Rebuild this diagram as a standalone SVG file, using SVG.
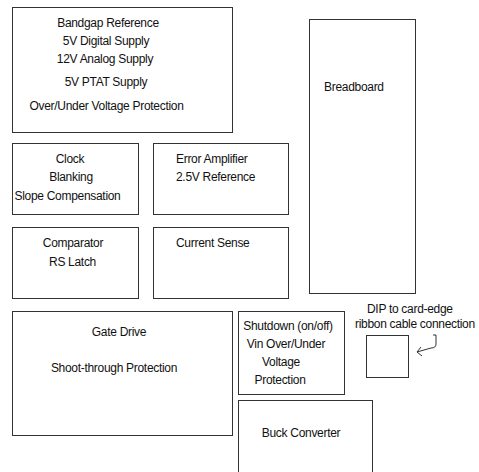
<svg xmlns="http://www.w3.org/2000/svg" width="479" height="472" viewBox="0 0 479 472">
<style>
rect{fill:#fff;stroke:#333;stroke-width:1}
text{font-family:"Liberation Sans",Arial,sans-serif;font-size:12px;letter-spacing:-0.3px;fill:#111}
.c{text-anchor:middle}
.conn{fill:none;stroke:#333;stroke-width:1}
</style>
<rect x="0" y="0" width="479" height="472" style="stroke:none"/>
<g id="power">
<rect x="12.5" y="7.5" width="220" height="125"/>
<text class="c" x="108" y="27">Bandgap Reference</text>
<text class="c" x="106" y="45">5V Digital Supply</text>
<text class="c" x="105" y="63">12V Analog Supply</text>
<text class="c" x="106" y="86">5V PTAT Supply</text>
<text class="c" x="106.5" y="110">Over/Under Voltage Protection</text>
</g>
<g id="breadboard">
<rect x="309.5" y="19.5" width="106" height="274"/>
<text x="324" y="91">Breadboard</text>
</g>
<g id="clock">
<rect x="12.5" y="143.5" width="126" height="71"/>
<text class="c" x="70" y="163">Clock</text>
<text class="c" x="71" y="181">Blanking</text>
<text class="c" x="67.5" y="200">Slope Compensation</text>
</g>
<g id="erroramp">
<rect x="153.5" y="143.5" width="135" height="71"/>
<text x="176" y="163">Error Amplifier</text>
<text x="176" y="181">2.5V Reference</text>
</g>
<g id="comparator">
<rect x="12.5" y="227.5" width="126" height="71"/>
<text class="c" x="73" y="247">Comparator</text>
<text class="c" x="72.5" y="266">RS Latch</text>
</g>
<g id="currentsense">
<rect x="153.5" y="227.5" width="135" height="71"/>
<text x="176" y="247">Current Sense</text>
</g>
<g id="gatedrive">
<rect x="12.5" y="311.5" width="220" height="124"/>
<text class="c" x="119" y="336">Gate Drive</text>
<text class="c" x="114" y="372">Shoot-through Protection</text>
</g>
<g id="shutdown">
<rect x="238.5" y="311.5" width="106" height="83"/>
<text class="c" x="288" y="330">Shutdown (on/off)</text>
<text class="c" x="286" y="348">Vin Over/Under</text>
<text class="c" x="281" y="366">Voltage</text>
<text class="c" x="280" y="384">Protection</text>
</g>
<g id="buck">
<rect x="238.5" y="400.5" width="134" height="80"/>
<text class="c" x="301" y="437">Buck Converter</text>
</g>
<g id="dip">
<rect x="366.5" y="335.5" width="42" height="42"/>
</g>
<g id="label">
<text x="367" y="313">DIP to card-edge</text>
<text x="355" y="328">ribbon cable connection</text>
</g>
<g id="connectors">
<path class="conn" d="M433,335 L436,335 L436,344 Q436,348 431,348 L417,352"/>
<path class="conn" d="M421,347 L417,352 L422,356"/>
</g>
</svg>
